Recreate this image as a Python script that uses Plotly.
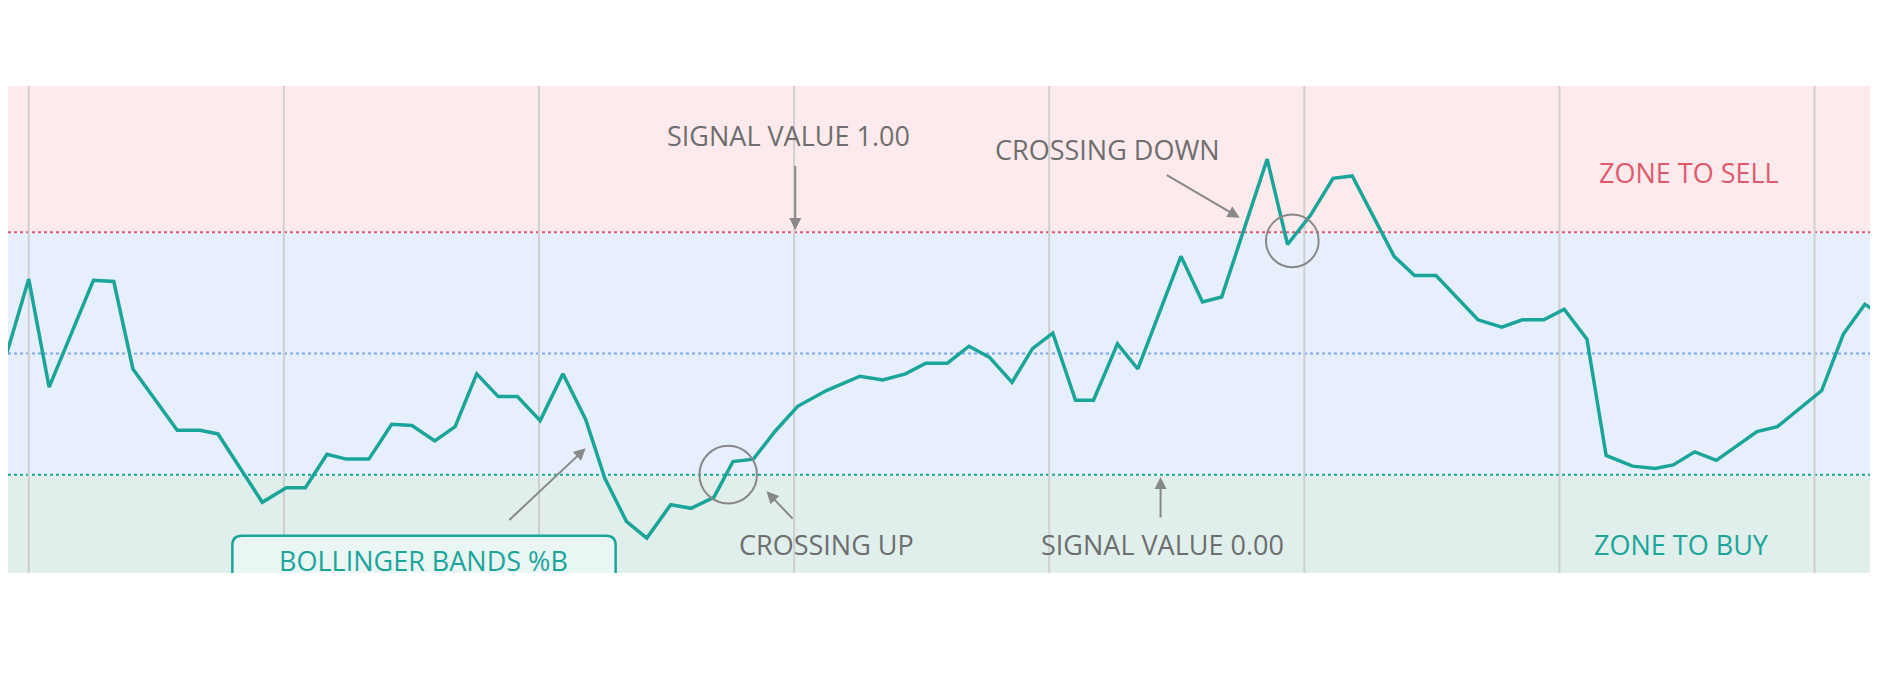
import plotly.graph_objects as go

# x positions (time units) and %B values
x = [0,5,24,41,78,95,111,148,167,182,219,239,255,273,289,308,327,344,363,380,398,416,432,451,470,489,505,523,540,560,577,596,612,629,647,666,690,718,737,756,773,791,809,826,845,862,879,898,913,933,950,986,1004,1020,1058,1075,1094,1113,1129,1164,1181,1199,1234,1254,1271,1289,1306,1325,1341,1363,1382,1397,1415,1433,1467,1484,1521,1539,1557,1568]
ypx = [262,297,233,323,234,235,308,359,359,362,419,407,407,379,383,383,354,355,368,356,312,331,331,351,312,350,399,435,449,421,424,415,385,383,360,339,326,314,317,312,303,303,289,298,319,291,278,334,334,287,308,214,252,248,133,204,180,149,147,214,230,230,267,273,267,267,258,283,380,389,391,388,377,384,360,356,326,279,254,261]
pctb = [round((396 - p) / 202, 3) for p in ypx]
grid_x = [24,237,450,663,876,1089,1302,1515]

TEAL = "#1aa59a"
RED = "#e05a6c"
BLUE = "#7fa8e6"
GRAY = "#888888"
TXT = "#6e6e6e"
FONT = "Open Sans"
FS = 27

fig = go.Figure()
fig.add_trace(go.Scatter(x=x, y=pctb, mode="lines", line=dict(color=TEAL, width=3.5), hoverinfo="skip"))

ymin, ymax = -0.406, 1.604
shapes = [
    dict(type="rect", xref="paper", yref="y", x0=0, x1=1, y0=1, y1=ymax, fillcolor="#fdeaec", line_width=0, layer="below"),
    dict(type="rect", xref="paper", yref="y", x0=0, x1=1, y0=0, y1=1, fillcolor="#e7effd", line_width=0, layer="below"),
    dict(type="rect", xref="paper", yref="y", x0=0, x1=1, y0=ymin, y1=0, fillcolor="#e0efec", line_width=0, layer="below"),
]
for gx in grid_x:
    shapes.append(dict(type="line", xref="x", yref="y", x0=gx, x1=gx, y0=ymin, y1=ymax, line=dict(color="#cfcfcf", width=2), layer="below"))
for lv, c in [(1, RED), (0.5, BLUE), (0, TEAL)]:
    shapes.append(dict(type="line", xref="paper", yref="y", x0=0, x1=1, y0=lv, y1=lv, line=dict(color=c, width=2, dash="dot"), layer="below"))
for cx, cy, r in [(1079, 0.965, 22), (608, 0.0, 24)]:
    shapes.append(dict(type="circle", xref="x", yref="y", x0=cx - r, x1=cx + r, y0=cy - r / 202, y1=cy + r / 202, line=dict(color=GRAY, width=2)))
# rounded label box
bx0, bx1, by0, by1, rr = 194, 514, -0.460, -0.252, 8
ry = rr / 202
shapes.append(dict(type="path", xref="x", yref="y", fillcolor="#eaf6f4", line=dict(color=TEAL, width=2.5),
    path=(f"M {bx0+rr},{by0} L {bx1-rr},{by0} Q {bx1},{by0} {bx1},{by0+ry} L {bx1},{by1-ry} "
          f"Q {bx1},{by1} {bx1-rr},{by1} L {bx0+rr},{by1} Q {bx0},{by1} {bx0},{by1-ry} "
          f"L {bx0},{by0+ry} Q {bx0},{by0} {bx0+rr},{by0} Z")))

def txt(s, xx, yy, color=TXT):
    return dict(text=s, x=xx, y=yy, xref="x", yref="y", showarrow=False, font=dict(family=FONT, size=FS, color=color))

def arrow(x0, y0, x1, y1):
    return dict(x=x1, y=y1, ax=x0, ay=y0, xref="x", yref="y", axref="x", ayref="y", text="", showarrow=True,
                arrowhead=2, arrowsize=1.2, arrowwidth=2, arrowcolor=GRAY)

annotations = [
    txt("SIGNAL VALUE 1.00", 658, 1.40),
    txt("CROSSING DOWN", 925, 1.34),
    txt("ZONE TO SELL", 1410, 1.248, color=RED),
    txt("CROSSING UP", 690, -0.287),
    txt("SIGNAL VALUE 0.00", 971, -0.287),
    txt("ZONE TO BUY", 1404, -0.287, color=TEAL),
    txt("BOLLINGER BANDS %B", 354, -0.356, color=TEAL),
    arrow(664, 1.28, 664, 1.01),
    arrow(973, 1.24, 1035, 1.06),
    arrow(663, -0.188, 640, -0.069),
    arrow(969, -0.183, 969, -0.01),
    arrow(424, -0.193, 489, 0.109),
]

fig.update_layout(
    width=1870, height=670, margin=dict(l=0, r=0, t=78, b=105),
    paper_bgcolor="white", plot_bgcolor="white", showlegend=False,
    xaxis=dict(range=[6.68, 1568], visible=False, fixedrange=True),
    yaxis=dict(range=[ymin, ymax], visible=False, fixedrange=True),
    shapes=shapes, annotations=annotations,
)
fig.write_html("out.html")
